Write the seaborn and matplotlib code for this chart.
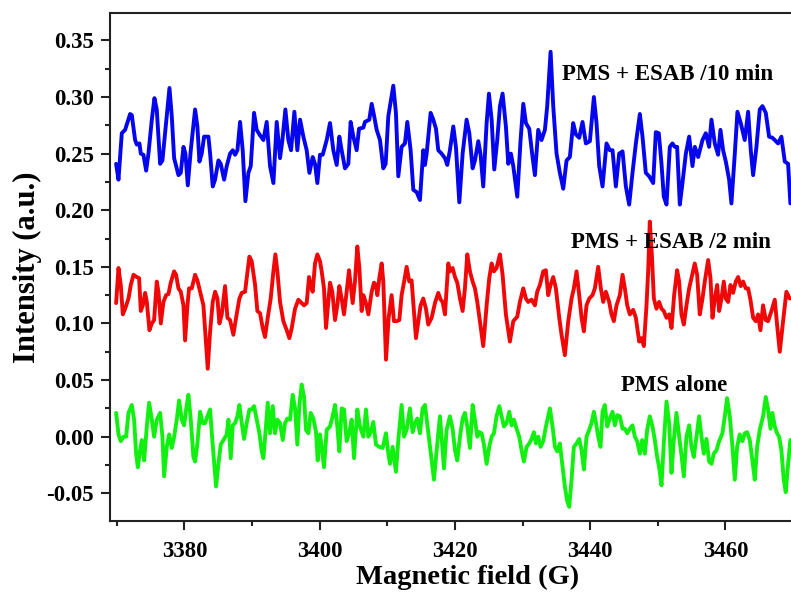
import numpy as np
import pandas as pd
import matplotlib
matplotlib.use("Agg")
import matplotlib.pyplot as plt
from matplotlib.ticker import MultipleLocator, FormatStrFormatter
import seaborn as sns

# ---- EPR spectra: magnetic field (G) and intensity (a.u.) ----
field_10min = [
    3369.90, 3370.25, 3370.74, 3371.23, 3371.97, 3372.22, 3372.71, 3372.96, 3373.35, 3373.55,
    3373.94, 3374.34, 3374.68, 3375.18, 3375.57, 3375.91, 3376.41, 3376.75, 3377.39, 3377.79,
    3378.13, 3378.48, 3379.12, 3379.46, 3379.86, 3380.15, 3380.50, 3380.94, 3381.58, 3381.92,
    3382.22, 3382.56, 3382.91, 3383.55, 3383.80, 3384.19, 3384.53, 3385.03, 3385.37, 3385.87,
    3386.26, 3386.75, 3387.15, 3387.49, 3387.84, 3388.23, 3388.62, 3389.02, 3389.46, 3389.81,
    3390.30, 3390.69, 3391.09, 3391.68, 3392.17, 3392.66, 3393.16, 3393.65, 3394.14, 3394.49,
    3394.93, 3395.37, 3395.77, 3396.26, 3396.70, 3397.10, 3397.59, 3398.08, 3398.48, 3398.97,
    3399.31, 3399.66, 3400.05, 3400.45, 3401.04, 3401.53, 3402.02, 3402.52, 3402.91, 3403.25,
    3403.75, 3404.24, 3404.58, 3404.98, 3405.47, 3405.82, 3406.46, 3406.70, 3407.34, 3407.69,
    3408.03, 3408.43, 3408.92, 3409.41, 3409.76, 3410.15, 3410.89, 3411.28, 3411.63, 3412.12,
    3412.61, 3412.96, 3413.45, 3413.85, 3414.34, 3414.83, 3415.32, 3415.57, 3415.82, 3416.41,
    3416.80, 3417.20, 3417.54, 3418.03, 3418.53, 3418.87, 3419.26,
    3419.76, 3420.15, 3420.65, 3421.14, 3421.73, 3422.13, 3422.62, 3422.96, 3423.46, 3423.80,
    3424.19, 3424.69, 3425.03, 3425.43, 3425.82, 3426.26, 3426.66, 3427.05, 3427.54, 3427.89,
    3428.28, 3428.63, 3429.22, 3429.71, 3430.11, 3430.50, 3430.99, 3431.48, 3431.83, 3432.32,
    3432.81, 3433.31, 3433.65, 3434.15, 3434.54, 3435.03, 3435.52, 3436.02, 3436.51, 3437.00,
    3437.49, 3437.89, 3438.38, 3438.87, 3439.37, 3439.96, 3440.55, 3440.94, 3441.34, 3441.83,
    3442.42, 3442.91, 3443.31, 3443.80, 3444.29, 3444.79, 3445.28, 3445.77, 3446.26, 3446.76,
    3447.35, 3447.74, 3448.23, 3448.73, 3449.32, 3449.71, 3450.15, 3450.55, 3450.89, 3451.29,
    3451.78, 3452.17, 3452.52, 3452.86, 3453.26, 3453.65, 3454.15, 3454.64, 3455.13, 3455.48,
    3455.97, 3456.61, 3457.10, 3457.59, 3457.94, 3458.43, 3458.92, 3459.27, 3459.66, 3460.06,
    3460.55, 3460.89, 3461.39, 3461.78, 3462.27, 3462.86, 3463.36, 3463.75, 3464.10, 3464.59,
    3465.08, 3465.48, 3465.97, 3466.46, 3466.95, 3467.30, 3467.79, 3468.28, 3468.78, 3469.27,
    3469.61,
]
intensity_10min = [
    0.241, 0.227, 0.268, 0.271, 0.285, 0.284, 0.262, 0.258, 0.259, 0.250,
    0.249, 0.235, 0.250, 0.280, 0.299, 0.289, 0.241, 0.244, 0.283, 0.308,
    0.283, 0.246, 0.231, 0.233, 0.256, 0.250, 0.222, 0.253, 0.289, 0.274,
    0.243, 0.250, 0.265, 0.265, 0.250, 0.221, 0.227, 0.244, 0.241, 0.227,
    0.239, 0.250, 0.253, 0.249, 0.253, 0.278, 0.253, 0.208, 0.233, 0.239,
    0.286, 0.271, 0.267, 0.262, 0.278, 0.239, 0.224, 0.278, 0.246, 0.262,
    0.289, 0.262, 0.253, 0.287, 0.253, 0.280, 0.265, 0.253, 0.233, 0.247,
    0.241, 0.224, 0.249, 0.249, 0.262, 0.277, 0.253, 0.240, 0.265, 0.253,
    0.237, 0.241, 0.278, 0.265, 0.253, 0.272, 0.273, 0.278, 0.280, 0.294,
    0.284, 0.271, 0.262, 0.237, 0.241, 0.283, 0.310, 0.286, 0.230, 0.256,
    0.259, 0.278, 0.253, 0.218, 0.216, 0.209, 0.253, 0.240, 0.250, 0.286,
    0.280, 0.272, 0.253, 0.250, 0.246, 0.240, 0.253,
    0.274, 0.256, 0.207, 0.250, 0.280, 0.268, 0.237, 0.244, 0.261, 0.249,
    0.221, 0.277, 0.303, 0.280, 0.236, 0.262, 0.292, 0.303, 0.274, 0.241,
    0.250, 0.239, 0.212, 0.262, 0.294, 0.277, 0.272, 0.247, 0.231, 0.271,
    0.262, 0.271, 0.292, 0.340, 0.292, 0.250, 0.233, 0.219, 0.244, 0.247,
    0.277, 0.267, 0.264, 0.278, 0.259, 0.261, 0.300, 0.277, 0.239, 0.221,
    0.259, 0.253, 0.253, 0.221, 0.250, 0.252, 0.221, 0.205, 0.233, 0.259,
    0.285, 0.265, 0.233, 0.230, 0.224, 0.269, 0.268, 0.241, 0.212, 0.205,
    0.256, 0.259, 0.256, 0.256, 0.205, 0.224, 0.250, 0.265, 0.239, 0.256,
    0.247, 0.262, 0.268, 0.256, 0.280, 0.259, 0.249, 0.271, 0.253, 0.243,
    0.227, 0.206, 0.250, 0.287, 0.277, 0.262, 0.287, 0.253, 0.231, 0.256,
    0.289, 0.292, 0.286, 0.265, 0.264, 0.262, 0.259, 0.265, 0.243, 0.241,
    0.206,
]

field_2min = [
    3369.90, 3370.25, 3370.59, 3370.89, 3371.23, 3371.73, 3372.07, 3372.47, 3372.96, 3373.30,
    3373.55, 3373.85, 3374.19, 3374.44, 3374.83, 3375.18, 3375.52, 3375.91, 3376.16, 3376.51,
    3376.90, 3377.29, 3377.64, 3377.98, 3378.48, 3378.77, 3379.12, 3379.46, 3379.86, 3380.10,
    3380.45, 3380.69, 3381.09, 3381.58, 3381.92, 3382.32, 3382.81, 3383.21, 3383.45, 3383.80,
    3384.19, 3384.54, 3384.88, 3385.18, 3385.52, 3386.01, 3386.36, 3386.75, 3387.24, 3387.64,
    3388.13, 3388.48, 3388.97, 3389.21, 3389.61, 3389.95, 3390.45, 3390.79, 3391.18, 3391.58,
    3391.92, 3392.32, 3392.76, 3393.16, 3393.45, 3393.75, 3394.14, 3394.63, 3395.13, 3395.52,
    3395.87, 3396.36, 3396.85, 3397.34, 3397.69, 3398.08, 3398.43, 3398.67, 3398.97, 3399.31,
    3399.66, 3400.05, 3400.30, 3400.64, 3400.94, 3401.28, 3401.53, 3401.87, 3402.27, 3402.61,
    3402.91, 3403.25, 3403.60, 3403.99, 3404.34, 3404.58, 3404.88, 3405.22, 3405.57, 3405.87,
    3406.21, 3406.46, 3406.80, 3407.20, 3407.69, 3408.03, 3408.33, 3408.53, 3408.82, 3409.17,
    3409.41, 3409.81, 3410.20, 3410.64, 3410.99, 3411.38, 3411.78, 3412.12, 3412.52, 3412.86,
    3413.25, 3413.60, 3413.94, 3414.24, 3414.59, 3414.93, 3415.32, 3415.72, 3416.06, 3416.56,
    3417.05, 3417.54, 3417.89, 3418.18, 3418.53, 3419.02, 3419.26,
    3419.66, 3420.01, 3420.35, 3420.75, 3421.14, 3421.48, 3421.83, 3422.22, 3422.62, 3422.96,
    3423.31, 3423.70, 3424.19, 3424.69, 3425.08, 3425.43, 3425.77, 3426.16, 3426.66, 3427.05,
    3427.54, 3428.13, 3428.63, 3429.22, 3429.61, 3430.11, 3430.50, 3430.84, 3431.34, 3431.83,
    3432.17, 3432.57, 3433.06, 3433.45, 3433.80, 3434.14, 3434.54, 3434.93, 3435.43, 3435.77,
    3436.26, 3436.76, 3437.25, 3437.59, 3437.99, 3438.38, 3438.73, 3439.07, 3439.46, 3439.86,
    3440.35, 3440.70, 3441.19, 3441.58, 3441.93, 3442.32, 3442.81, 3443.16, 3443.50, 3443.90,
    3444.39, 3444.79, 3445.13, 3445.48, 3445.87, 3446.36, 3446.76, 3447.25, 3447.59, 3447.94,
    3448.33, 3448.58, 3448.82, 3449.12, 3449.42, 3449.81, 3450.20, 3450.55, 3450.89, 3451.29,
    3451.68, 3452.03, 3452.42, 3452.86, 3453.16, 3453.50, 3453.85, 3454.24, 3454.64, 3454.98,
    3455.47, 3455.82, 3456.21, 3456.61, 3456.95, 3457.45, 3457.79, 3458.09, 3458.43, 3458.78,
    3459.07, 3459.42, 3459.76, 3460.06, 3460.40, 3460.75, 3461.14, 3461.53, 3461.88, 3462.27,
    3462.62, 3463.01, 3463.36, 3463.70, 3464.10, 3464.49, 3464.83, 3465.18, 3465.57, 3465.97,
    3466.31, 3466.81, 3467.30, 3467.64, 3468.04, 3468.53, 3469.02, 3469.51,
]
intensity_2min = [
    0.118, 0.149, 0.134, 0.108, 0.113, 0.122, 0.134, 0.143, 0.141, 0.140,
    0.111, 0.116, 0.127, 0.119, 0.094, 0.100, 0.103, 0.137, 0.128, 0.100,
    0.119, 0.125, 0.126, 0.136, 0.146, 0.143, 0.131, 0.128, 0.116, 0.085,
    0.116, 0.131, 0.131, 0.143, 0.138, 0.128, 0.116, 0.081, 0.060, 0.093,
    0.119, 0.128, 0.122, 0.100, 0.108, 0.133, 0.105, 0.103, 0.090, 0.105,
    0.122, 0.127, 0.128, 0.140, 0.159, 0.155, 0.134, 0.111, 0.109, 0.096,
    0.088, 0.105, 0.122, 0.146, 0.161, 0.146, 0.119, 0.102, 0.094, 0.087,
    0.096, 0.113, 0.121, 0.118, 0.116, 0.118, 0.141, 0.134, 0.128, 0.153,
    0.161, 0.155, 0.146, 0.131, 0.096, 0.119, 0.136, 0.128, 0.103, 0.116,
    0.133, 0.122, 0.108, 0.128, 0.147, 0.134, 0.118, 0.137, 0.168, 0.149,
    0.111, 0.125, 0.119, 0.108, 0.128, 0.136, 0.134, 0.125, 0.140, 0.153,
    0.137, 0.068, 0.105, 0.125, 0.102, 0.102, 0.103, 0.125, 0.138, 0.150,
    0.137, 0.138, 0.111, 0.087, 0.102, 0.116, 0.122, 0.113, 0.099, 0.105,
    0.118, 0.127, 0.121, 0.119, 0.108, 0.153, 0.146,
    0.149, 0.141, 0.136, 0.122, 0.111, 0.131, 0.161, 0.146, 0.137, 0.131,
    0.119, 0.102, 0.080, 0.116, 0.140, 0.153, 0.146, 0.149, 0.161, 0.143,
    0.108, 0.084, 0.102, 0.106, 0.119, 0.131, 0.122, 0.119, 0.121, 0.116,
    0.128, 0.134, 0.146, 0.147, 0.125, 0.134, 0.141, 0.131, 0.105, 0.090,
    0.072, 0.102, 0.122, 0.131, 0.146, 0.125, 0.105, 0.093, 0.116, 0.122,
    0.125, 0.131, 0.150, 0.131, 0.119, 0.128, 0.119, 0.108, 0.102, 0.116,
    0.125, 0.143, 0.131, 0.116, 0.108, 0.112, 0.105, 0.084, 0.087, 0.080,
    0.116, 0.146, 0.190, 0.161, 0.122, 0.113, 0.119, 0.113, 0.111, 0.105,
    0.108, 0.096, 0.125, 0.147, 0.137, 0.108, 0.099, 0.116, 0.131, 0.140,
    0.153, 0.143, 0.108, 0.122, 0.137, 0.156, 0.140, 0.105, 0.122, 0.134,
    0.111, 0.122, 0.137, 0.122, 0.119, 0.134, 0.127, 0.137, 0.141, 0.133,
    0.137, 0.131, 0.131, 0.121, 0.105, 0.102, 0.108, 0.094, 0.116, 0.103,
    0.102, 0.111, 0.121, 0.099, 0.075, 0.102, 0.128, 0.122,
]

field_alone = [
    3369.90, 3370.25, 3370.59, 3370.99, 3371.38, 3371.73, 3372.22, 3372.56, 3372.86, 3373.11,
    3373.45, 3373.70, 3374.04, 3374.44, 3374.78, 3375.18, 3375.52, 3375.91, 3376.41, 3376.75,
    3377.00, 3377.39, 3377.74, 3378.13, 3378.48, 3378.87, 3379.21, 3379.61, 3379.95, 3380.25,
    3380.59, 3380.94, 3381.33, 3381.58, 3381.92, 3382.32, 3382.71, 3383.06, 3383.40, 3383.80,
    3384.14, 3384.68, 3385.03, 3385.37, 3385.87, 3386.26, 3386.51, 3386.85, 3387.15, 3387.49,
    3387.84, 3388.13, 3388.48, 3388.82, 3389.21, 3389.61, 3389.95, 3390.30, 3390.69, 3391.09,
    3391.43, 3391.68, 3392.02, 3392.32, 3392.66, 3393.06, 3393.40, 3393.75, 3394.14, 3394.54,
    3394.88, 3395.23, 3395.62, 3396.01, 3396.36, 3396.70, 3397.00, 3397.34, 3397.69, 3397.98,
    3398.33, 3398.67, 3399.07, 3399.46, 3399.71, 3400.05, 3400.30, 3400.64, 3401.04, 3401.53,
    3401.92, 3402.27, 3402.61, 3402.91, 3403.25, 3403.60, 3403.99, 3404.39, 3404.73, 3405.08,
    3405.57, 3405.96, 3406.46, 3406.85, 3407.20, 3407.54, 3407.93, 3408.33, 3408.82, 3409.31,
    3409.81, 3410.15, 3410.40, 3410.79, 3411.28, 3411.63, 3412.12, 3412.47, 3412.86, 3413.35,
    3413.75, 3414.09, 3414.44, 3414.83, 3415.22, 3415.57, 3416.06, 3416.56, 3416.90, 3417.30,
    3417.79, 3418.03, 3418.38, 3418.77, 3419.26,
    3419.66, 3420.01, 3420.35, 3420.75, 3421.14, 3421.48, 3421.83, 3422.22, 3422.62, 3422.96,
    3423.31, 3423.60, 3423.95, 3424.29, 3424.69, 3425.08, 3425.43, 3425.77, 3426.16, 3426.56,
    3426.90, 3427.25, 3427.64, 3428.04, 3428.38, 3428.73, 3429.12, 3429.51, 3429.86, 3430.20,
    3430.60, 3430.99, 3431.34, 3431.68, 3431.98, 3432.32, 3432.67, 3433.06, 3433.46, 3433.80,
    3434.05, 3434.44, 3434.79, 3435.13, 3435.52, 3435.92, 3436.26, 3436.61, 3436.90, 3437.25,
    3437.59, 3437.99, 3438.38, 3438.73, 3439.07, 3439.46, 3439.86, 3440.20, 3440.55, 3440.84,
    3441.19, 3441.53, 3441.83, 3442.17, 3442.52, 3442.91, 3443.31, 3443.65, 3444.00, 3444.39,
    3444.79, 3445.13, 3445.48, 3445.87, 3446.26, 3446.61, 3446.95, 3447.35, 3447.69, 3448.09,
    3448.43, 3448.82, 3449.22, 3449.56, 3449.91, 3450.20, 3450.55, 3450.89, 3451.29, 3451.68,
    3452.03, 3452.37, 3452.76, 3453.16, 3453.50, 3453.85, 3454.24, 3454.64, 3454.98, 3455.33,
    3455.72, 3456.11, 3456.46, 3456.81, 3457.20, 3457.59, 3457.94, 3458.28, 3458.68, 3459.07,
    3459.56, 3459.91, 3460.25, 3460.65, 3461.04, 3461.39, 3461.73, 3462.12, 3462.52, 3462.86,
    3463.21, 3463.60, 3463.99, 3464.34, 3464.69, 3465.08, 3465.57, 3465.97, 3466.31, 3466.66,
    3466.95, 3467.30, 3467.64, 3467.94, 3468.28, 3468.63, 3468.92, 3469.27, 3469.61,
]
intensity_alone = [
    0.021, 0.002, -0.004, 0.000, 0.000, 0.021, 0.028, 0.015, -0.015, -0.027,
    -0.012, -0.003, -0.021, 0.009, 0.030, 0.015, 0.000, 0.015, 0.021, 0.000,
    -0.035, -0.009, 0.002, -0.010, 0.000, 0.015, 0.032, 0.015, 0.010, 0.024,
    0.037, 0.015, -0.018, -0.022, -0.006, 0.022, 0.012, 0.012, 0.018, 0.024,
    -0.004, -0.044, -0.024, -0.007, -0.002, 0.002, 0.015, -0.019, 0.010, 0.012,
    0.018, 0.028, 0.012, -0.002, 0.012, 0.024, 0.024, 0.027, 0.015, 0.003,
    -0.013, -0.019, 0.006, 0.030, 0.003, 0.027, 0.003, 0.015, 0.012, -0.003,
    0.012, 0.016, 0.015, 0.037, 0.025, -0.007, 0.028, 0.046, 0.035, 0.006,
    0.003, 0.021, 0.016, 0.004, -0.021, 0.002, -0.009, -0.027, 0.006, 0.009,
    0.018, 0.028, 0.009, -0.013, 0.025, 0.024, -0.004, 0.004, 0.015, -0.019,
    0.024, 0.009, 0.000, 0.024, 0.000, 0.004, 0.013, -0.007, -0.009, -0.010,
    0.003, -0.015, -0.024, -0.009, -0.031, -0.003, 0.028, 0.000, 0.006, 0.025,
    0.004, 0.012, 0.016, 0.003, 0.025, 0.028, 0.004, -0.021, -0.038, -0.012,
    0.018, 0.000, -0.028, 0.006, 0.018,
    0.007, -0.012, -0.021, 0.000, 0.016, 0.021, 0.009, -0.010, 0.028, 0.015,
    0.000, 0.004, 0.003, -0.007, -0.024, -0.009, 0.000, 0.003, 0.018, 0.027,
    0.018, 0.009, 0.012, 0.022, 0.010, 0.015, 0.007, 0.000, -0.012, -0.022,
    -0.009, -0.006, -0.002, 0.004, -0.006, 0.000, -0.009, -0.004, 0.009, 0.018,
    0.025, 0.009, -0.009, -0.013, -0.006, -0.027, -0.044, -0.057, -0.062, -0.038,
    -0.009, -0.006, -0.002, -0.012, -0.029, 0.000, 0.006, 0.012, 0.022, 0.013,
    0.000, -0.009, 0.022, 0.028, 0.009, 0.016, 0.022, 0.010, 0.019, 0.018,
    0.007, 0.007, 0.003, 0.007, 0.010, 0.000, -0.004, -0.015, -0.003, -0.015,
    0.006, 0.018, 0.009, -0.003, -0.018, -0.027, -0.043, -0.006, 0.031, 0.012,
    -0.032, -0.003, 0.021, 0.000, -0.016, -0.035, 0.000, 0.010, -0.009, -0.018,
    0.000, 0.018, 0.000, -0.015, -0.002, -0.022, -0.024, -0.015, -0.012, -0.004,
    0.003, 0.018, 0.034, 0.018, -0.009, -0.038, -0.009, 0.002, -0.004, 0.003,
    0.004, -0.003, -0.021, -0.038, -0.009, 0.006, 0.018, 0.035, 0.024, 0.007,
    0.021, 0.009, 0.003, 0.000, -0.012, -0.038, -0.049, -0.024, -0.003,
]

series_labels = ["PMS + ESAB /10 min", "PMS + ESAB /2 min", "PMS alone"]
series_colors = ["#0505ee", "#f00808", "#12f012"]
# label anchor (left edge, vertical centre) in data coordinates
label_x = [3435.9, 3437.2, 3444.6]
label_y = [0.3195, 0.1711, 0.0448]

frames = []
for name, fx, fy in zip(series_labels,
                        [field_10min, field_2min, field_alone],
                        [intensity_10min, intensity_2min, intensity_alone]):
    frames.append(pd.DataFrame({"field": fx, "intensity": fy, "sample": name}))
df = pd.concat(frames, ignore_index=True)

sns.set_style("ticks")
plt.rcParams["font.family"] = ["Liberation Serif", "DejaVu Serif"]
plt.rcParams["font.weight"] = "bold"
plt.rcParams["axes.unicode_minus"] = False
plt.rcParams["text.color"] = "black"
plt.rcParams["axes.labelcolor"] = "black"

fig = plt.figure(figsize=(7.91, 6.01), dpi=100)
ax = fig.add_axes([0.1391, 0.1331, 0.8609, 0.8458])

sns.lineplot(data=df, x="field", y="intensity", hue="sample",
             palette=dict(zip(series_labels, series_colors)),
             estimator=None, sort=False, linewidth=2.8, legend=False, ax=ax)

for txt, tx, ty in zip(series_labels, label_x, label_y):
    ax.text(tx, ty, txt, ha="left", va="center", fontsize=16.5,
            fontweight="bold", color="black")

ax.set_xlim(3369.0, 3469.7)
ax.set_ylim(-0.0745, 0.3745)
ax.xaxis.set_major_locator(MultipleLocator(20))
ax.xaxis.set_minor_locator(MultipleLocator(10))
ax.yaxis.set_major_locator(MultipleLocator(0.05))
ax.yaxis.set_minor_locator(MultipleLocator(0.025))
ax.yaxis.set_major_formatter(FormatStrFormatter("%.2f"))
ax.xaxis.set_major_formatter(FormatStrFormatter("%d"))

for side in ["left", "bottom", "top"]:
    ax.spines[side].set_linewidth(1.5)
    ax.spines[side].set_color("#222222")
ax.spines["right"].set_visible(False)

ax.tick_params(which="major", direction="out", length=6.5, width=1.5,
               labelsize=16.5, colors="#222222")
ax.tick_params(which="minor", direction="out", length=3.5, width=1.5,
               colors="#222222")
ax.tick_params(axis="y", which="major", pad=5)
ax.tick_params(axis="x", which="major", pad=8)
ax.tick_params(axis="both", labelcolor="black")
for lab in ax.get_xticklabels() + ax.get_yticklabels():
    lab.set_fontweight("bold")

ax.set_xlabel("Magnetic field (G)", fontsize=20.5, fontweight="bold")
ax.set_ylabel("Intensity (a.u.)", fontsize=22, fontweight="bold")
ax.xaxis.set_label_coords(0.5257, -0.086)
ax.yaxis.set_label_coords(-0.100, 0.5)

fig.savefig("out.png", dpi=100)
